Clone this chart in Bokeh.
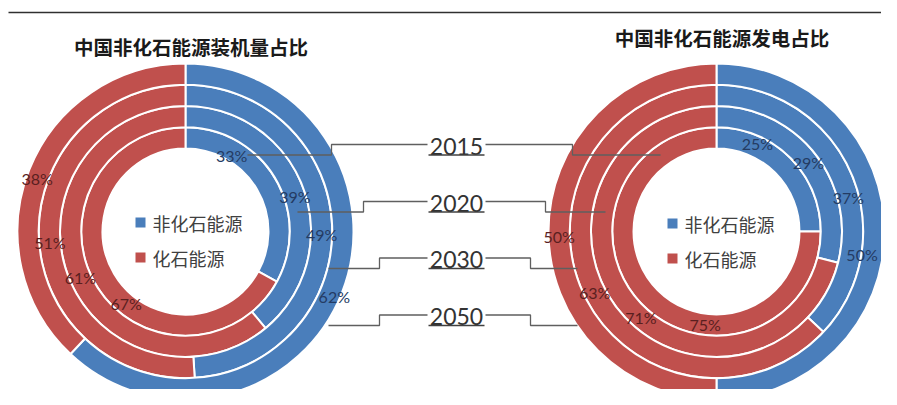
import math
from bokeh.plotting import figure
from bokeh.models import Range1d, ColumnDataSource
from bokeh.core.properties import value
from bokeh.embed import file_html
from bokeh.resources import INLINE

# ---------------- data ----------------
years = ["2015", "2020", "2030", "2050"]
install_nonfossil = [33, 39, 49, 62]   # 中国非化石能源装机量占比
install_fossil = [67, 61, 51, 38]
gen_nonfossil = [25, 29, 37, 50]       # 中国非化石能源发电占比
gen_fossil = [75, 71, 63, 50]
series_names = ["非化石能源", "化石能源"]
titles = ["中国非化石能源装机量占比", "中国非化石能源发电占比"]

# ---------------- layout / style ----------------
W, H = 881, 389
REF_H = 405
BLUE = "#4A7EBB"
RED = "#C0504D"
BLUE_TXT = "#243B63"
RED_TXT = "#5A1F1F"
GRAY = "#404040"
LINE_GRAY = "#5f5f5f"
R_IN, R_OUT = 83.0, 168.0
CENTERS = [(185.0, 231.0), (716.0, 231.0)]
# label angle nudges (degrees, clockwise) relative to slice mid-angle
NUDGE_BLUE = [[-28, 2, 3, 2], [-20, 1, 9, 9]]
NUDGE_RED = [[-20, -4, -3, -2], [-38, -11, -3, -2]]
# radial nudges (px) for blue labels
RNUDGE_BLUE = [[-5, 0, 0, 5], [3, 0, 0, -10]]
TITLE_POS = [(190.5, 46.0), (721.5, 37.0)]
LEGEND_POS = [(140.0, 222.0), (672.0, 223.0)]
YEAR_X = 456.0
YEAR_Y = [145.5, 202.5, 259.0, 316.0]
# connector shapes: (x of step, x of end) for left and right sides
CONN_LEFT = [(331, 247), (363, 297), (379, 328), (379, 328)]
CONN_RIGHT = [(572, 660), (545, 605), (530, 577), (530, 577)]


def Y(y):
    return REF_H - y


p = figure(width=W, height=H, output_backend="svg", toolbar_location=None,
           x_range=Range1d(0, W), y_range=Range1d(Y(H), Y(0)),
           x_axis_type=None, y_axis_type=None, min_border=0,
           outline_line_color=None, background_fill_color="white",
           border_fill_color="white")
p.grid.visible = False

# top rule
p.line([8, W], [Y(12), Y(12)], line_color="#303030", line_width=1.5)

ring_w = (R_OUT - R_IN) / len(years)

for k, (nonf, fos) in enumerate([(install_nonfossil, install_fossil),
                                 (gen_nonfossil, gen_fossil)]):
    cx, cy = CENTERS[k]
    cyd = Y(cy)
    data = dict(x=[], y=[], ir=[], orr=[], sa=[], ea=[], color=[])
    lab = dict(x=[], y=[], text=[], color=[])
    for i in range(len(years)):
        total = nonf[i] + fos[i]
        fb = nonf[i] / total
        ir = R_IN + i * ring_w
        orr = ir + ring_w
        rm = (ir + orr) / 2
        # blue: from 12 o'clock clockwise by fb
        data["x"] += [cx, cx]
        data["y"] += [cyd, cyd]
        data["ir"] += [ir, ir]
        data["orr"] += [orr, orr]
        data["sa"] += [math.radians(90 - fb * 360), math.radians(90)]
        data["ea"] += [math.radians(90), math.radians(90 - fb * 360 + 360)]
        data["color"] += [BLUE, RED]
        # labels
        mb = fb * 360 / 2 + NUDGE_BLUE[k][i]
        mr = (fb * 360 + 360) / 2 + NUDGE_RED[k][i]
        for ang, r, v, c in [(mb, rm + RNUDGE_BLUE[k][i], nonf[i], BLUE_TXT),
                             (mr, rm, fos[i], RED_TXT)]:
            a = math.radians(ang)
            lab["x"].append(cx + r * math.sin(a))
            lab["y"].append(cyd + r * math.cos(a))
            lab["text"].append(f"{v}%")
            lab["color"].append(c)
    p.annular_wedge(x="x", y="y", inner_radius="ir", outer_radius="orr",
                    start_angle="sa", end_angle="ea", color="color",
                    line_color="white", line_width=2,
                    source=ColumnDataSource(data))
    p.text(x="x", y="y", text="text", text_color="color",
           source=ColumnDataSource(lab), text_font=value("Lato"),
           text_font_size="16px", text_align="center", text_baseline="middle")

    # title
    tx, ty = TITLE_POS[k]
    p.text(x=[tx], y=[Y(ty)], text=[titles[k]], text_font=value("Noto Sans CJK SC"),
           text_font_size="19.5px", text_font_style="bold", text_color="#1a1a1a",
           text_align="center", text_baseline="middle")

    # legend
    lx, ly = LEGEND_POS[k]
    p.scatter(x=[lx, lx], y=[Y(ly), Y(ly + 35)], marker="square", size=10,
              color=[BLUE, RED], line_color=None)
    p.text(x=[lx + 12, lx + 12], y=[Y(ly), Y(ly + 35)], text=series_names,
           text_font=value("Noto Sans CJK SC"), text_font_size="18px",
           text_color=GRAY, text_align="left", text_baseline="middle")

# year labels with connectors
p.text(x=[YEAR_X] * len(years), y=[Y(v) for v in YEAR_Y], text=years,
       text_font=value("Lato"), text_font_size="23px", text_color="#333333",
       text_align="center", text_baseline="middle")
for i, yy in enumerate(YEAR_Y):
    yl = yy - 1.5
    yb = yy + 9
    # underline
    p.line([YEAR_X - 28, YEAR_X + 28], [Y(yb), Y(yb)], line_color=GRAY, line_width=1.3)
    sx, ex = CONN_LEFT[i]
    p.line([YEAR_X - 29, sx, sx, ex], [Y(yl), Y(yl), Y(yb), Y(yb)],
           line_color=LINE_GRAY, line_width=1.3)
    sx, ex = CONN_RIGHT[i]
    p.line([YEAR_X + 29, sx, sx, ex], [Y(yl), Y(yl), Y(yb), Y(yb)],
           line_color=LINE_GRAY, line_width=1.3)

open("out.html", "w").write(file_html(p, INLINE))
